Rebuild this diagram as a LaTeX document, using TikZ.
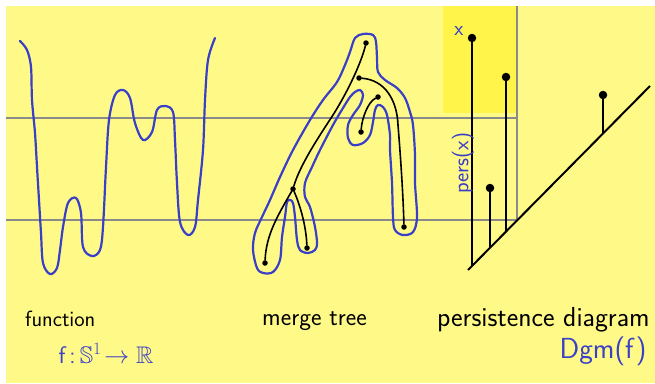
\documentclass[tikz,border=0pt]{standalone}
\usepackage{amssymb}
\usepackage{tikz}
\usetikzlibrary{arrows.meta,positioning}
\definecolor{PaperYellow}{HTML}{FFFA87}
\definecolor{HighYellow}{HTML}{FFF54A}
\definecolor{PenBlue}{HTML}{3A3FC8}
\definecolor{LevelGrey}{HTML}{8A8A8A}
\tikzset{
  levelline/.style={draw=LevelGrey, line width=1.5pt},
  bluepen/.style={draw=PenBlue, line width=2.2pt, line cap=round, line join=round},
  treeedge/.style={draw=black, line width=1.6pt, line cap=round},
  treedot/.style={circle, fill=black, inner sep=0pt, minimum size=5.5pt},
  pddot/.style={circle, fill=black, inner sep=0pt, minimum size=8.5pt},
  stem/.style={draw=black, line width=2pt},
  caption/.style={font=\sffamily, text=black, inner sep=0pt},
  bluetext/.style={font=\sffamily, text=PenBlue, inner sep=0pt}
}

\begin{document}
\begin{tikzpicture}[x=1pt, y=-1pt]
  \useasboundingbox (0,0) rectangle (655,383);
  \fill[white] (0,0) rectangle (655,383);
  \fill[PaperYellow] (6,6) rectangle (655,383);
  \fill[HighYellow] (443,6) rectangle (516,113);

  % level sets
  \coordinate (hiL) at (6,118);
  \coordinate (hiR) at (517,118);
  \coordinate (loL) at (6,220);
  \coordinate (loR) at (517,220);
  \coordinate (vTop) at (517,6);
  \draw[levelline] (hiL) -- (hiR);
  \draw[levelline] (loL) -- (loR);
  \draw[levelline] (vTop) -- (loR);

  % function
  \draw[bluepen] plot[smooth, tension=0.55] coordinates {
    (20,41) (27,50) (31,67) (32,100) (35,133) (37,167) (39,200) (41,233)
    (43,263) (50,274) (57,268) (60,250) (63,227) (68,203) (76,198) (81,213)
    (83,247) (92,256) (100,250) (103,227) (106,167) (109,120) (115,95)
    (123,90) (130,98) (135,123) (143,140) (152,132) (157,110) (165,106)
    (173,112) (175,140) (177,183) (180,222) (188,235) (195,227) (198,200)
    (203,150) (205,100) (208,60) (215,38)};

  % merge tree outline
  \draw[bluepen] plot[smooth cycle, tension=0.55] coordinates {
    (355,38) (363,34) (373,35) (376,42) (377,58) (378,72) (385,80) (397,88)
    (405,98) (410,112) (413,125) (415,155) (415,183) (417,217) (413,232)
    (403,235) (395,230) (393,217) (392,183) (390,150) (390,135) (387,115)
    (383,107) (378,105) (375,110) (373,122) (370,135) (363,143) (353,145)
    (348,138) (348,125) (353,115) (360,105) (363,95) (360,90) (355,92)
    (350,97) (343,108) (333,125) (320,150) (312,167) (305,183) (305,197)
    (310,207) (315,227) (317,243) (315,250) (308,253) (300,250) (297,240)
    (295,217) (293,203) (290,200) (287,202) (285,217) (282,237) (280,260)
    (273,272) (263,273) (257,268) (253,250) (255,233) (262,217) (270,200)
    (280,177) (293,150) (310,120) (323,100) (337,82) (345,65) (350,52)};

  % merge tree
  \node[treedot] (root) at (366,43) {};
  \node[treedot] (mergeA) at (359,78) {};
  \node[treedot] (mergeB) at (378,97) {};
  \node[treedot] (mergeC) at (293,189) {};
  \node[treedot] (leafS) at (361,132) {};
  \node[treedot] (leafR) at (404,227) {};
  \node[treedot] (leafM) at (307,248) {};
  \node[treedot] (leafL) at (265,263) {};
  \draw[treeedge] (root) .. controls (362,60) and (350,88) .. (333,115)
    .. controls (318,138) and (300,165) .. (mergeC);
  \draw[treeedge] (mergeC) .. controls (278,215) and (266,235) .. (leafL);
  \draw[treeedge] (mergeC) .. controls (300,205) and (306,225) .. (leafM);
  \draw[treeedge] (mergeA) .. controls (385,80) and (397,100) .. (398,125)
    .. controls (400,150) and (403,190) .. (leafR);
  \draw[treeedge] (mergeB) .. controls (368,102) and (362,118) .. (leafS);

  % persistence diagram
  \coordinate (diagA) at (468,270);
  \coordinate (diagB) at (650,86);
  \draw[stem] (diagA) -- (diagB);
  \node[pddot] (px) at (472,38) {};
  \node[pddot] (pB) at (506,77) {};
  \node[pddot] (pC) at (490,188) {};
  \node[pddot] (pD) at (603,95) {};
  \coordinate (fx) at (472,266);
  \coordinate (fB) at (506,232);
  \coordinate (fC) at (490,248);
  \coordinate (fD) at (603,134);
  \draw[stem] (px.center) -- (fx);
  \draw[stem] (pB.center) -- (fB);
  \draw[stem] (pC.center) -- (fC);
  \draw[stem] (pD.center) -- (fD);
  \node[bluetext, font=\sffamily\fontsize{21}{24}\selectfont] (xlabel) at (459,31) {x};
  \node[bluetext, font=\sffamily\fontsize{22}{26}\selectfont, rotate=90] (perslabel) at (463,163) {pers(x)};

  % captions
  \node[caption, anchor=base west, font=\sffamily\fontsize{22}{26}\selectfont] (capfun) at (25,326) {function};
  \node[caption, anchor=base west, font=\sffamily\fontsize{25}{30}\selectfont] (captree) at (262,325) {merge tree};
  \node[caption, anchor=base west, font=\sffamily\fontsize{27.5}{32}\selectfont] (cappd) at (437,326) {persistence diagram};
  \node[bluetext, font=\sffamily\fontsize{24}{28}\selectfont] (funmap) at (106,353)
    {f\,:\,$\mathbb{S}^{1}\!\rightarrow\mathbb{R}$};
  \node[bluetext, font=\sffamily\fontsize{29}{34}\selectfont] (dgm) at (603,351) {Dgm(f)};
\end{tikzpicture}
\end{document}
